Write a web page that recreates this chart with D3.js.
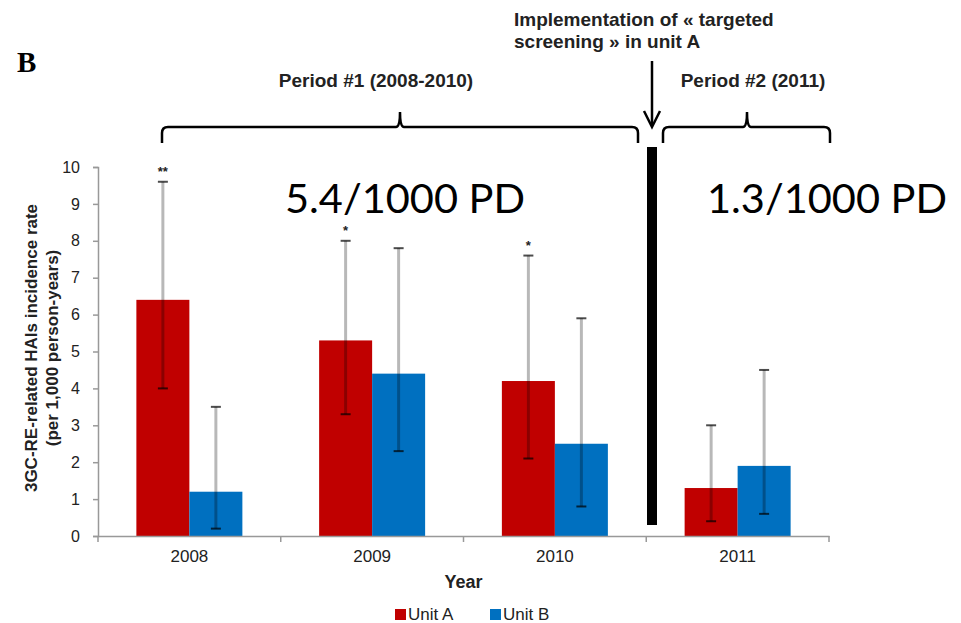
<!DOCTYPE html>
<html>
<head>
<meta charset="utf-8">
<script src="https://cdn.jsdelivr.net/npm/d3@7"></script>
<style>
  body { margin: 0; background: #fff; }
  text { font-family: "Liberation Sans", Arial, sans-serif; }
</style>
</head>
<body>
<div id="vis"></div>
<script>
// data
const years = ['2008', '2009', '2010', '2011']
const units = ['Unit A', 'Unit B']
const unitA = [6.4, 5.3, 4.2, 1.3]
const unitB = [1.2, 4.4, 2.5, 1.9]
const unitALow = [4.0, 3.3, 2.1, 0.4]
const unitAHigh = [9.6, 8.0, 7.6, 3.0]
const unitBLow = [0.2, 2.3, 0.8, 0.6]
const unitBHigh = [3.5, 7.8, 5.9, 4.5]
const signif = ['**', '*', '*', '']
const yTicks = [0, 1, 2, 3, 4, 5, 6, 7, 8, 9, 10]
const rates = ['5.4/1000 PD', '1.3/1000 PD']

const W = 961, H = 623
const plot = { left: 98, right: 829, top: 167, bottom: 536 }
const colors = d3.scaleOrdinal(units, ['#C00000', '#0070C0'])

// rows for the bars
const rows = []
years.forEach((y, i) => {
    rows.push({ year: y, unit: 'Unit A', v: unitA[i], lo: unitALow[i], hi: unitAHigh[i], sig: signif[i] })
    rows.push({ year: y, unit: 'Unit B', v: unitB[i], lo: unitBLow[i], hi: unitBHigh[i], sig: '' })
})

const svg = d3.select('#vis').append('svg')
    .attr('width', W).attr('height', H)

const xScale = d3.scaleBand().domain(years).range([plot.left, plot.right])
const xInner = d3.scaleBand().domain(units).range([-53, 53])
const yScale = d3.scaleLinear().domain([0, 10]).range([plot.bottom, plot.top])

// bars
svg.selectAll('.bar')
    .data(rows)
    .join('rect')
    .attr('class', 'bar')
    .attr('x', d => xScale(d.year) + xScale.bandwidth() / 2 + xInner(d.unit))
    .attr('width', xInner.bandwidth())
    .attr('y', d => yScale(d.v))
    .attr('height', d => yScale(0) - yScale(d.v))
    .style('fill', d => colors(d.unit))

const cx = d => xScale(d.year) + xScale.bandwidth() / 2 + xInner(d.unit) + xInner.bandwidth() / 2

// error bars
svg.selectAll('.err')
    .data(rows)
    .join('line')
    .attr('x1', cx).attr('x2', cx)
    .attr('y1', d => yScale(d.lo)).attr('y2', d => yScale(d.hi))
    .style('stroke', '#000').style('stroke-opacity', 0.28).style('stroke-width', 3)

svg.selectAll('.capHi')
    .data(rows)
    .join('line')
    .attr('x1', d => cx(d) - 5).attr('x2', d => cx(d) + 5)
    .attr('y1', d => yScale(d.hi)).attr('y2', d => yScale(d.hi))
    .style('stroke', '#000').style('stroke-opacity', 0.7).style('stroke-width', 2)

svg.selectAll('.capLo')
    .data(rows)
    .join('line')
    .attr('x1', d => cx(d) - 5).attr('x2', d => cx(d) + 5)
    .attr('y1', d => yScale(d.lo)).attr('y2', d => yScale(d.lo))
    .style('stroke', '#000').style('stroke-opacity', 0.7).style('stroke-width', 2)

// significance stars
svg.selectAll('.sig')
    .data(rows.filter(d => d.sig))
    .join('text')
    .attr('x', cx)
    .attr('y', d => yScale(d.hi) - 6)
    .attr('text-anchor', 'middle')
    .style('font-size', '13px').style('font-weight', 'bold')
    .style('fill', '#222')
    .text(d => d.sig)

// axes
const yAxis = svg.append('g')
    .attr('transform', `translate(${plot.left},0)`)
    .call(d3.axisLeft(yScale).tickValues(yTicks).tickSize(5).tickPadding(13))
const xAxis = svg.append('g')
    .attr('transform', `translate(0,${plot.bottom})`)
    .call(d3.axisBottom(xScale).tickSize(0).tickPadding(14))
// ticks at band edges
xAxis.selectAll('.edge')
    .data(years.map(y => xScale(y)).concat([plot.right]))
    .join('line')
    .attr('x1', d => d).attr('x2', d => d)
    .attr('y1', 0).attr('y2', 6)
    .style('stroke', '#999').style('stroke-width', 1.5)

svg.selectAll('.domain').style('stroke', '#999').style('stroke-width', 1.5)
yAxis.selectAll('.tick line').style('stroke', '#999').style('stroke-width', 1.5)
yAxis.selectAll('text').style('font-size', '16px').style('fill', '#222').style('font-family', '"Liberation Sans", Arial')
xAxis.selectAll('text').style('font-size', '17px').style('fill', '#222').style('font-family', '"Liberation Sans", Arial')

// axis titles
svg.append('text')
    .attr('x', (plot.left + plot.right) / 2).attr('y', 588)
    .attr('text-anchor', 'middle')
    .style('font-size', '18px').style('font-weight', 'bold').style('fill', '#222')
    .text('Year')

const yTitle = svg.append('text')
    .attr('transform', 'translate(37,348) rotate(-90)')
    .attr('text-anchor', 'middle')
    .style('font-size', '17px').style('font-weight', 'bold').style('fill', '#222')
yTitle.append('tspan').attr('x', 0).attr('y', 0).text('3GC-RE-related HAIs incidence rate')
yTitle.append('tspan').attr('x', 0).attr('y', 21).text('(per 1,000 person-years)')

// legend
const legend = svg.selectAll('.legend')
    .data(units)
    .join('g')
    .attr('transform', (d, i) => `translate(${395 + i * 95},609)`)
legend.append('rect').attr('width', 11).attr('height', 11).style('fill', d => colors(d))
legend.append('text').attr('x', 13).attr('y', 11)
    .style('font-size', '17px').style('fill', '#222').text(d => d)

// panel letter
svg.append('text')
    .attr('x', 17).attr('y', 72)
    .style('font-family', '"Liberation Serif", "Times New Roman", serif')
    .style('font-size', '29px').style('font-weight', 'bold')
    .text('B')

// separator and arrow for the intervention
const sepX = 652
svg.append('line')
    .attr('x1', sepX).attr('x2', sepX).attr('y1', 147).attr('y2', 525)
    .style('stroke', '#000').style('stroke-width', 10)

svg.append('line')
    .attr('x1', sepX).attr('x2', sepX).attr('y1', 61).attr('y2', 125)
    .style('stroke', '#000').style('stroke-width', 2.5)
svg.append('path')
    .attr('d', `M${sepX - 8},111 L${sepX},127 L${sepX + 8},111`)
    .style('fill', 'none').style('stroke', '#000').style('stroke-width', 2.5)

const note = svg.append('text')
    .style('font-size', '19px').style('font-weight', 'bold').style('fill', '#222')
note.append('tspan').attr('x', 514).attr('y', 26).text('Implementation of « targeted')
note.append('tspan').attr('x', 514).attr('y', 48).text('screening » in unit A')

// curly braces over the two periods
function brace(x0, x1, xm) {
    const y = 127, r = 6
    return `M${x0},143 L${x0},${y + r} Q${x0},${y} ${x0 + r},${y} ` +
        `L${xm - 4},${y} Q${xm},${y} ${xm},112 Q${xm},${y} ${xm + 4},${y} ` +
        `L${x1 - r},${y} Q${x1},${y} ${x1},${y + r} L${x1},143`
}
const periods = [
    { label: 'Period #1 (2008-2010)', x0: 162, x1: 638, xm: 400, lx: 376 },
    { label: 'Period #2 (2011)', x0: 663, x1: 830, xm: 747, lx: 753 }
]
svg.selectAll('.brace')
    .data(periods)
    .join('path')
    .attr('d', d => brace(d.x0, d.x1, d.xm))
    .style('fill', 'none').style('stroke', '#000').style('stroke-width', 2.5)
svg.selectAll('.plabel')
    .data(periods)
    .join('text')
    .attr('x', d => d.lx)
    .attr('y', 87)
    .attr('text-anchor', 'middle')
    .style('font-size', '19px').style('font-weight', 'bold').style('fill', '#222')
    .text(d => d.label)

// big rate annotations
svg.selectAll('.rate')
    .data(rates)
    .join('text')
    .attr('x', (d, i) => [285, 707][i])
    .attr('y', 213)
    .style('font-family', 'Lato, "Open Sans", sans-serif')
    .style('font-size', '41.5px')
    .style('fill', '#000')
    .text(d => d)
</script>
</body>
</html>
